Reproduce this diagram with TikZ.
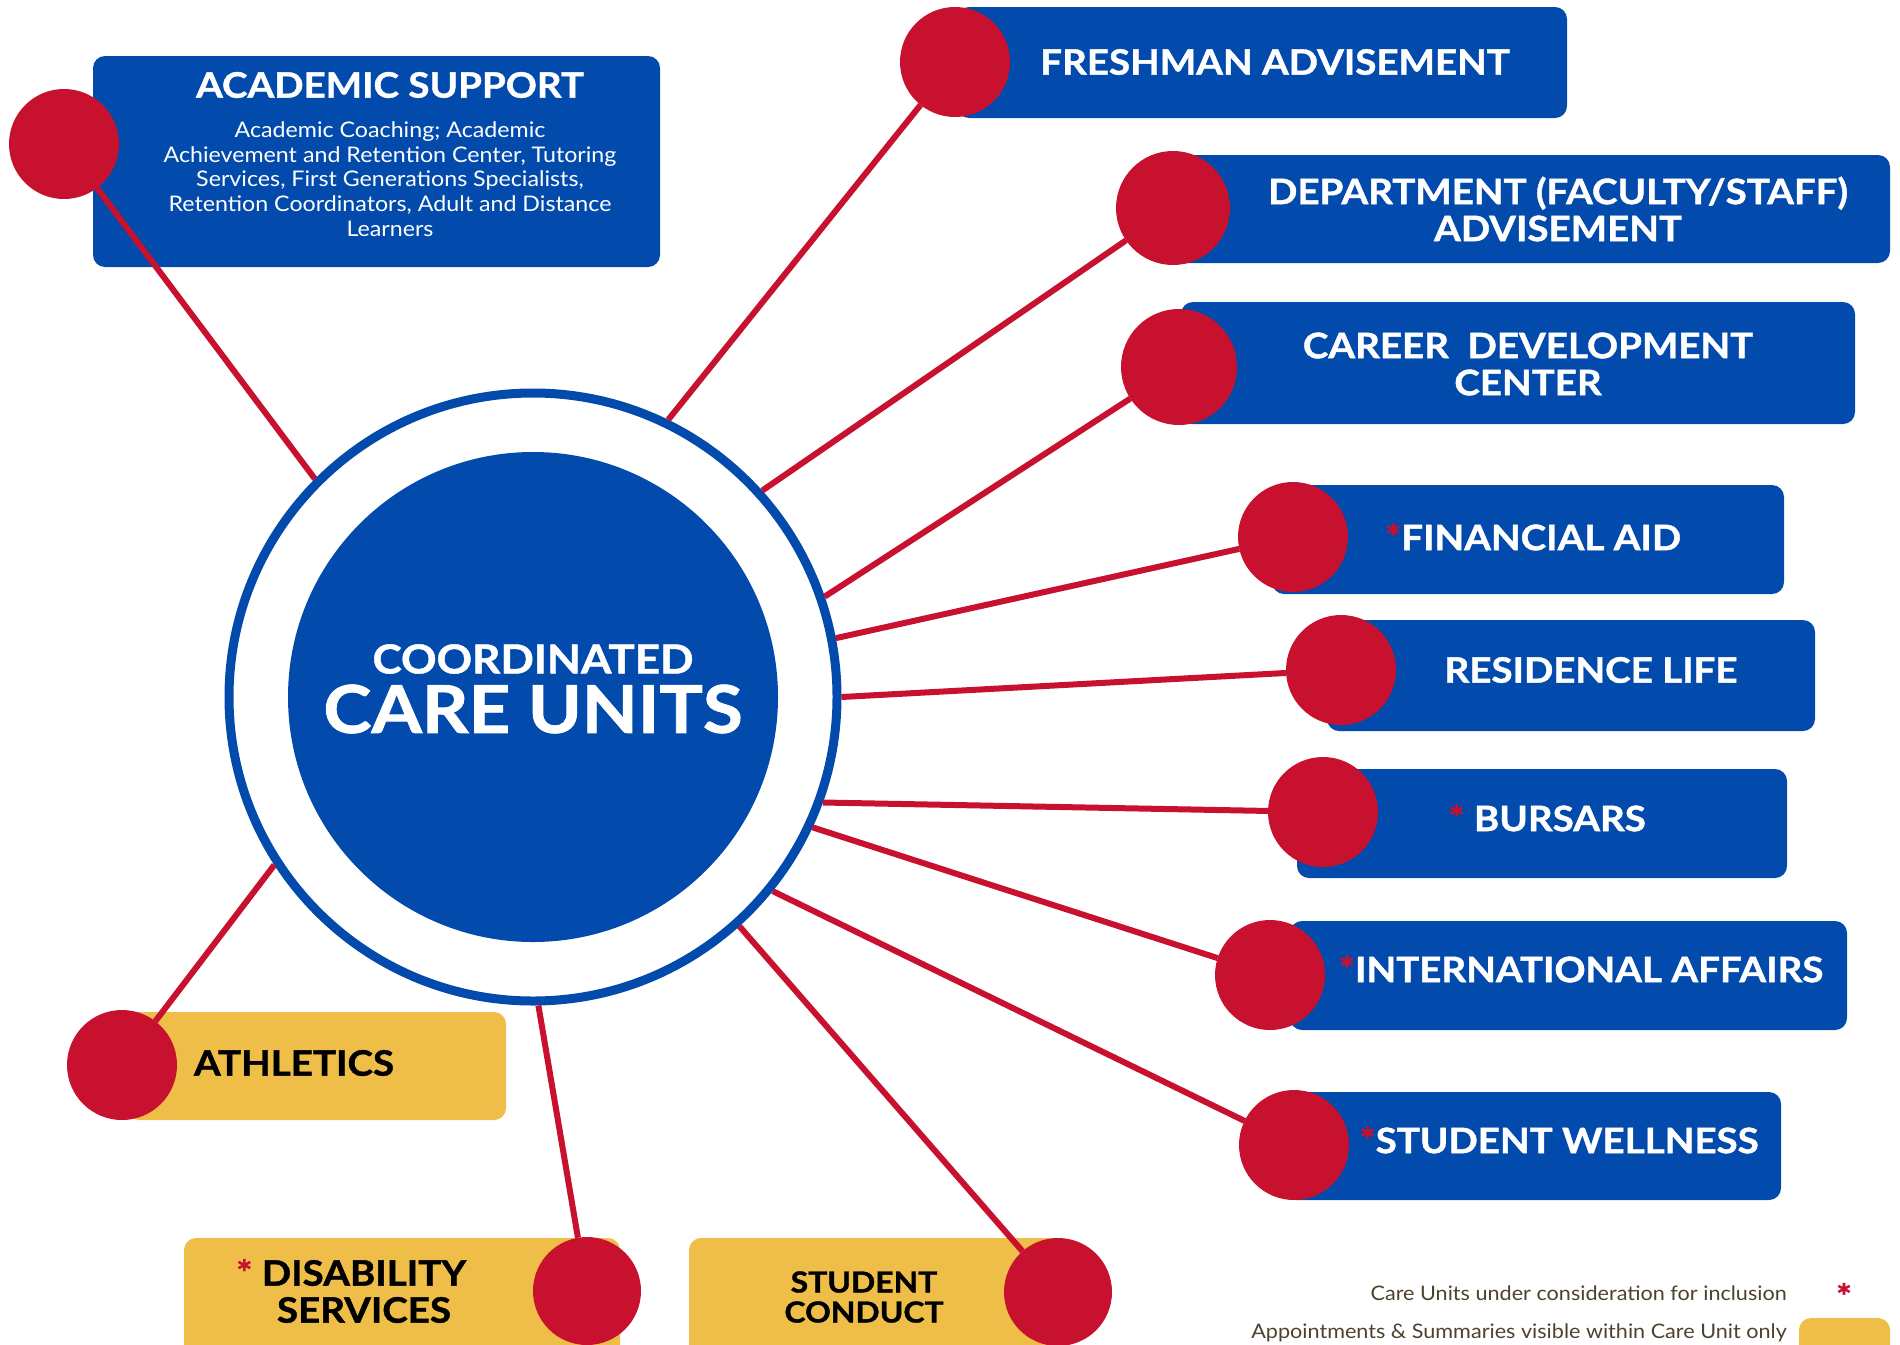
\documentclass[tikz,border=0pt]{standalone}
\usepackage{fontspec}
\setmainfont{Lato}
\newfontfamily\headfont[FakeStretch=1.1, BoldFeatures={FakeBold=1.2}]{Lato}
\newfontfamily\bodyfont[FakeStretch=1.08]{Lato}
\definecolor{careblue}{RGB}{2,75,172}
\definecolor{carered}{RGB}{199,17,46}
\definecolor{careyellow}{RGB}{239,190,72}
\definecolor{legendtext}{RGB}{77,66,45}
\newcommand{\redstar}{\textcolor{carered}{*}}

\begin{document}
\begin{tikzpicture}[x=1pt,y=-1pt,
  unitbox/.style={fill=careblue, rounded corners=12pt, inner sep=0pt},
  yellowbox/.style={fill=careyellow, rounded corners=12pt, inner sep=0pt},
  dot/.style={circle, fill=carered, inner sep=0pt, outer sep=0pt, minimum size=110pt},
  link/.style={draw=carered, line width=6pt},
  title/.style={text=white, font=\fontsize{35}{37}\headfont\bfseries, align=center, inner sep=0pt},
  darktitle/.style={title, text=black},
  legend/.style={text=legendtext, font=\fontsize{20}{24}\bodyfont, anchor=east, inner sep=0pt}
]
\useasboundingbox (0,0) rectangle (1900,1344);

% boxes
\node[unitbox, minimum width=567pt, minimum height=211pt] (acad) at (376.5,161.5) {};
\node[unitbox, minimum width=610pt, minimum height=111pt] (fresh) at (1262,62.5) {};
\node[unitbox, minimum width=721pt, minimum height=108pt] (dept) at (1529.5,209) {};
\node[unitbox, minimum width=674pt, minimum height=122pt] (career) at (1518,363) {};
\node[unitbox, minimum width=512pt, minimum height=109pt] (finaid) at (1528,539.5) {};
\node[unitbox, minimum width=488pt, minimum height=111pt] (reslife) at (1571,675.5) {};
\node[unitbox, minimum width=490pt, minimum height=109pt] (bursar) at (1542,823.5) {};
\node[unitbox, minimum width=557pt, minimum height=109pt] (intl) at (1568.5,975.5) {};
\node[unitbox, minimum width=497pt, minimum height=108pt] (well) at (1532.5,1146) {};
\node[yellowbox, minimum width=379pt, minimum height=108pt] (athl) at (316.5,1066) {};
\node[yellowbox, minimum width=436pt, minimum height=122pt] (disab) at (402,1299) {};
\node[yellowbox, minimum width=377pt, minimum height=122pt] (conduct) at (877.5,1299) {};

% hub
\node[circle, draw=careblue, line width=9pt, fill=white, minimum size=608pt] (ring) at (533,697) {};
\node[circle, fill=careblue, minimum size=490pt] (core) at (533,697) {};
\node[text=white, font=\fontsize{40}{40}\headfont\bfseries, inner sep=0pt] (coord) at (533,659) {COORDINATED};
\node[text=white, font=\fontsize{66}{66}\headfont\bfseries, inner sep=0pt] (units) at (533,709) {CARE UNITS};

% dots
\node[dot] (acaddot) at (64,144) {};
\node[dot] (freshdot) at (955,62) {};
\node[dot, minimum size=114pt] (deptdot) at (1173,208) {};
\node[dot, minimum size=116pt] (careerdot) at (1179,367) {};
\node[dot] (finaiddot) at (1293,537) {};
\node[dot] (reslifedot) at (1341,670) {};
\node[dot] (bursardot) at (1323,812) {};
\node[dot] (intldot) at (1270,975) {};
\node[dot] (welldot) at (1294,1145) {};
\node[dot] (athldot) at (122,1065) {};
\node[dot, minimum size=108pt] (disabdot) at (587,1291) {};
\node[dot, minimum size=108pt] (conductdot) at (1058,1292) {};

% links to the hub
\draw[link] (acaddot) -- (ring.135);
\draw[link] (freshdot) -- (ring.64.5);
\draw[link] (deptdot) -- (ring.42.3);
\draw[link] (careerdot) -- (ring.19.4);
\draw[link] (finaiddot) -- (ring.11.3);
\draw[link] (reslifedot) -- (ring.0);
\draw[link] (bursardot) -- (ring.-20.3);
\draw[link] (intldot) -- (ring.-25);
\draw[link] (welldot) -- (ring.-39.4);
\draw[link] (conductdot) -- (ring.-48.3);
\draw[link] (disabdot) -- (ring.-89.8);
\draw[link] (athldot) -- (ring.-147);

% labels
\node[title] (acadtitle) at (390,85) {ACADEMIC SUPPORT};
\node[text=white, font=\fontsize{21.5}{24.8}\bodyfont, align=center, inner sep=0pt] (acadtext) at (390,179)
  {Academic Coaching; Academic\\Achievement and Retention Center, Tutoring\\Services, First Generations Specialists,\\Retention Coordinators, Adult and Distance\\Learners};
\node[title] (freshtext) at (1275,62) {FRESHMAN ADVISEMENT};
\node[title] (depttext) at (1558,209) {DEPARTMENT (FACULTY/STAFF)\\ADVISEMENT};
\node[title] (careertext) at (1528,364) {CAREER\ \ DEVELOPMENT\\CENTER};
\node[title] (finaidtext) at (1533,537) {\redstar FINANCIAL AID};
\node[title] (reslifetext) at (1591,670) {RESIDENCE LIFE};
\node[title] (bursartext) at (1547,818) {\redstar\ BURSARS};
\node[title] (intltext) at (1581,969) {\redstar INTERNATIONAL AFFAIRS};
\node[title] (welltext) at (1559,1140) {\redstar STUDENT WELLNESS};
\node[darktitle] (athltext) at (294,1063) {ATHLETICS};
\node[darktitle] (disabtext) at (364,1291) {\llap{\redstar\ }DISABILITY\\SERVICES};
\node[darktitle, font=\fontsize{29}{30}\headfont\bfseries] (conducttext) at (864,1297) {STUDENT\\CONDUCT};

% legend
\node[legend] (legstar) at (1787,1293) {Care Units under consideration for inclusion};
\node[text=carered, font=\fontsize{34}{34}\headfont\bfseries] (starmark) at (1844,1296) {*};
\node[legend] (legyellow) at (1787,1333) {Appointments \& Summaries visible within Care Unit only};
\node[yellowbox, minimum width=91pt, minimum height=50pt] (yellowmark) at (1844.5,1343) {};
\end{tikzpicture}
\end{document}
